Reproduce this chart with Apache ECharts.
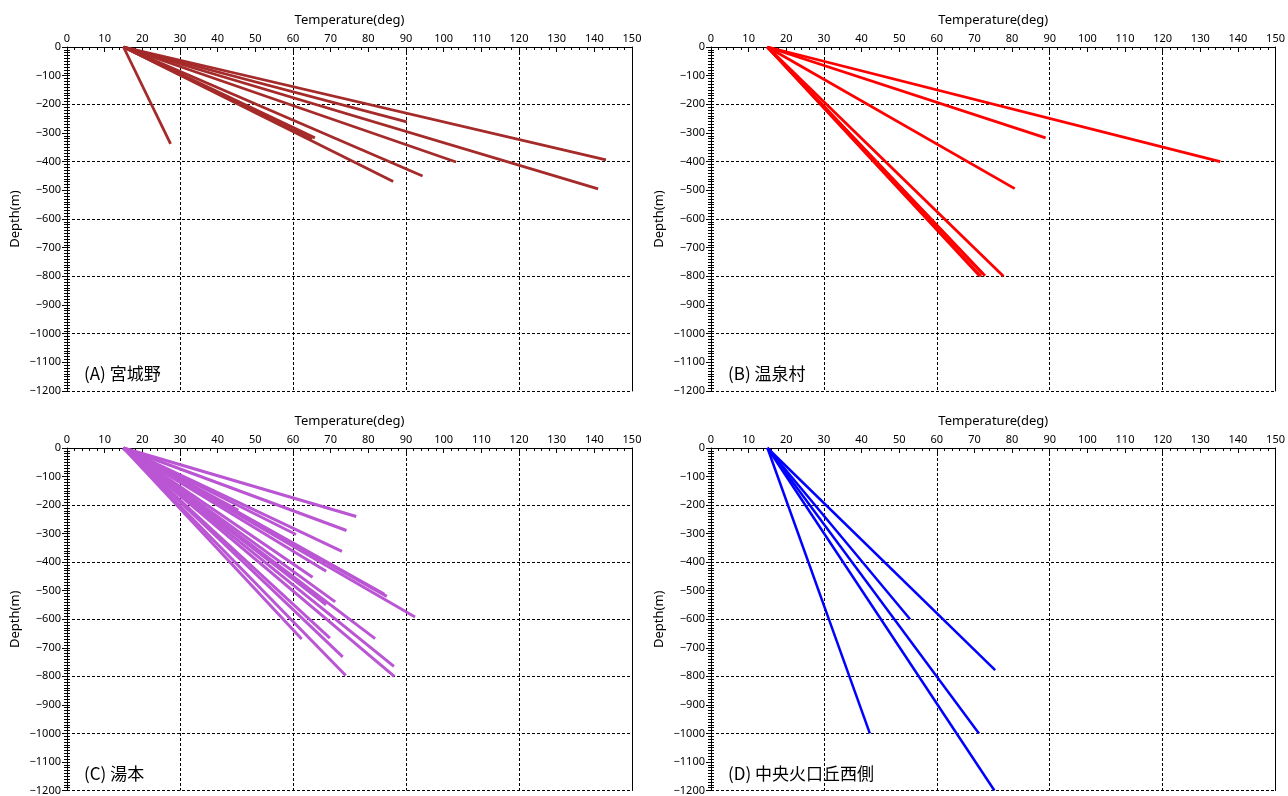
<!DOCTYPE html>
<html>
<head>
<meta charset="utf-8">
<script src="https://cdn.jsdelivr.net/npm/echarts@6/dist/echarts.min.js"></script>
<style>
  html, body { margin: 0; padding: 0; background: #fff; }
  #chart { width: 1288px; height: 796px; }
</style>
</head>
<body>
<div id="chart"></div>
<script>
// every profile starts at the surface, 15 deg
const surfaceTemp = 15

// end points [temperature, depth] of each profile
const miyaginoEnds = [
  [27.5, -338], [90.2, -261], [143.1, -394], [141, -495], [103.3, -401],
  [94.4, -450], [86.6, -469], [65.8, -317], [65, -322]
]
const onsenmuraEnds = [
  [135.3, -400], [88.9, -317], [80.7, -494], [77.7, -800],
  [72.8, -798], [71.7, -800], [72.2, -792], [71.2, -796]
]
const yumotoEnds = [
  [76.8, -240], [74.2, -289], [60.8, -303], [45.5, -218], [73, -362],
  [68.8, -432], [65.2, -453], [84.9, -520], [84.2, -512], [92.4, -592],
  [71.2, -539], [68.8, -549], [62.3, -669], [69.8, -666], [81.8, -668],
  [73.2, -732], [86.8, -765], [74, -797], [86.9, -800]
]
const chuoWestEnds = [
  [75.5, -778], [52.9, -600], [71.2, -1000], [42.2, -1000], [75.3, -1200]
]

const panelNames = ['(A) 宮城野', '(B) 温泉村', '(C) 湯本', '(D) 中央火口丘西側']
const panelColors = ['#a52a2a', '#ff0000', '#ba55d3', '#0000ff']
const panelWidths = [2.8, 2.8, 3, 2.5]
const panelEnds = [miyaginoEnds, onsenmuraEnds, yumotoEnds, chuoWestEnds]

const grids = [
  { left: 67, top: 47, width: 565, height: 344 },
  { left: 711, top: 47, width: 565, height: 344 },
  { left: 67, top: 448, width: 565, height: 343 },
  { left: 711, top: 448, width: 565, height: 343 }
]

const font = 'Noto Sans'
const black = '#000'
const minus = v => String(v).replace('-', '\u2212')

const xAxis = []
const yAxis = []
const series = []
const graphic = []

grids.forEach((g, i) => {
  const xBase = xAxis.length
  const yBase = yAxis.length
  // top axis with labels
  xAxis.push({
    gridIndex: i, type: 'value', position: 'top', min: 0, max: 150, interval: 10,
    name: 'Temperature(deg)', nameLocation: 'middle', nameGap: 20,
    nameTextStyle: { fontFamily: font, fontSize: 13, color: black },
    axisLine: { lineStyle: { color: black, width: 1 } },
    axisTick: { inside: true, length: 5, lineStyle: { color: black } },
    minorTick: { show: true, splitNumber: 5, length: 3, lineStyle: { color: black } },
    axisLabel: { fontFamily: font, fontSize: 11, color: black, margin: 3 },
    splitLine: { show: false }
  })
  // bottom axis, ticks only
  xAxis.push({
    gridIndex: i, type: 'value', position: 'bottom', min: 0, max: 150, interval: 10,
    axisLine: { lineStyle: { color: black, width: 1 } },
    axisTick: { length: 5, lineStyle: { color: black } },
    minorTick: { show: true, splitNumber: 5, length: 3, lineStyle: { color: black } },
    axisLabel: { show: false },
    splitLine: { show: false }
  })
  // dashed grid every 30
  xAxis.push({
    gridIndex: i, type: 'value', position: 'bottom', min: 0, max: 150, interval: 30,
    axisLine: { show: false }, axisTick: { show: false }, axisLabel: { show: false },
    splitLine: { show: true, lineStyle: { color: black, type: [3, 2], width: 1 } }
  })
  // left axis with labels
  yAxis.push({
    gridIndex: i, type: 'value', position: 'left', min: -1200, max: 0, interval: 100,
    name: 'Depth(m)', nameLocation: 'middle', nameGap: 45,
    nameTextStyle: { fontFamily: font, fontSize: 13, color: black },
    axisLine: { lineStyle: { color: black, width: 1 } },
    axisTick: { length: 5, lineStyle: { color: black } },
    minorTick: { show: true, splitNumber: 10, length: 3, lineStyle: { color: black } },
    axisLabel: { fontFamily: font, fontSize: 11, color: black, margin: 6, formatter: minus },
    splitLine: { show: false }
  })
  // inner minor ticks on the left axis
  yAxis.push({
    gridIndex: i, type: 'value', position: 'left', min: -1200, max: 0, interval: 100,
    axisLine: { show: false },
    axisTick: { inside: true, length: 3, lineStyle: { color: black } },
    minorTick: { show: true, splitNumber: 10, length: 3, lineStyle: { color: black } },
    axisLabel: { show: false },
    splitLine: { show: false }
  })
  // dashed grid every 200
  yAxis.push({
    gridIndex: i, type: 'value', position: 'left', min: -1200, max: 0, interval: 200,
    axisLine: { show: false }, axisTick: { show: false }, axisLabel: { show: false },
    splitLine: { show: true, lineStyle: { color: black, type: [3, 2], width: 1 } }
  })
  // right frame
  yAxis.push({
    gridIndex: i, type: 'value', position: 'right', min: -1200, max: 0, interval: 100,
    axisLine: { show: true, lineStyle: { color: black, width: 1 } },
    axisTick: { show: false }, axisLabel: { show: false }, splitLine: { show: false }
  })

  panelEnds[i].forEach(end => {
    series.push({
      type: 'line',
      xAxisIndex: xBase,
      yAxisIndex: yBase,
      data: [[surfaceTemp, 0], end],
      symbol: 'none',
      silent: true,
      lineStyle: { color: panelColors[i], width: panelWidths[i] }
    })
  })

  graphic.push({
    type: 'text',
    left: g.left + 17,
    top: g.top + g.height - 26,
    style: {
      text: panelNames[i],
      fontFamily: 'Noto Sans CJK JP',
      fontSize: 17,
      fill: black
    }
  })
})

const chart = echarts.init(document.getElementById('chart'), null, { renderer: 'canvas' })
chart.setOption({
  animation: false,
  backgroundColor: '#fff',
  grid: grids.map(g => ({ ...g, containLabel: false })),
  xAxis,
  yAxis,
  series,
  graphic
})
</script>
</body>
</html>
